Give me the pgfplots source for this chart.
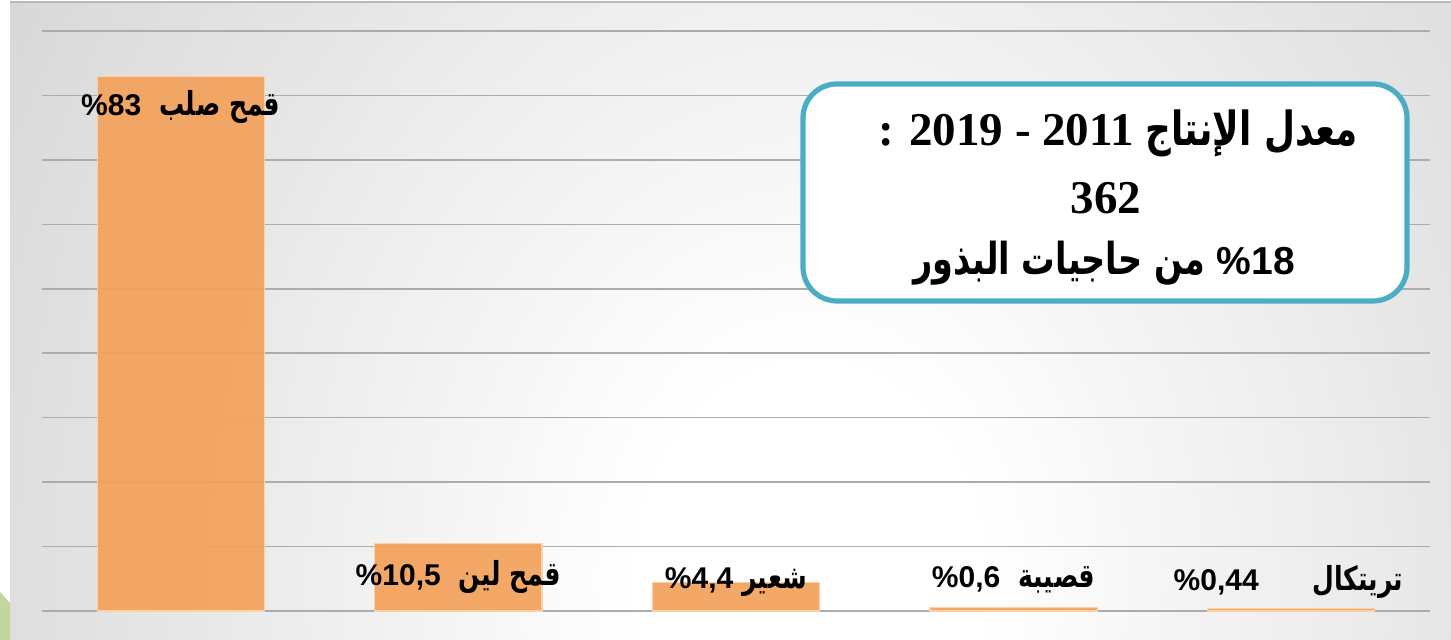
\documentclass[border=0pt]{standalone}
\usepackage{fontspec}
\usepackage{pgfplots}
\pgfplotsset{compat=1.18}
\setmainfont{Liberation Sans}
\newfontfamily\arabicfont[Script=Arabic,FakeStretch=0.76]{DejaVu Sans}
\newfontfamily\timesfont{Liberation Serif}
\TeXXeTstate=1
\definecolor{barfill}{RGB}{243,162,92}
\definecolor{baredge}{RGB}{250,210,170}
\definecolor{boxblue}{RGB}{75,172,198}
\definecolor{leaf}{RGB}{195,214,155}
\definecolor{bggray}{RGB}{194,194,194}
\definecolor{gridc}{RGB}{172,172,172}
\pgfdeclareradialshading{bgshade}{\pgfpoint{0bp}{0bp}}{color(0bp)=(white); color(5bp)=(white); color(40bp)=(bggray); color(50bp)=(bggray)}
\newcommand{\ar}[1]{{\arabicfont\bfseries\fontsize{16.5}{18}\selectfont\beginR #1\endR}}
\begin{document}
\begin{tikzpicture}[x=0.5pt,y=0.5pt]
\path[use as bounding box] (0,0) rectangle (1451,640);
\fill[white] (0,0) rectangle (1451,640);
\begin{scope}
\clip (10,0) rectangle (1451,638);
\fill[bggray] (10,0) rectangle (1451,638);
\shade[shading=bgshade] (810-840,60-1050) rectangle (810+840,60+1050);
\end{scope}
\draw[gray!55, line width=1] (10,638) -- (1451,638);
\fill[leaf] (0,48) -- (10,37) -- (10,0) -- (0,0) -- cycle;
\begin{axis}[
  at={(21pt,14.5pt)}, anchor=south west,
  scale only axis, width=694pt, height=290pt,
  ybar, bar width=83.5pt,
  xmin=-0.5, xmax=4.5, ymin=0, ymax=90,
  ytick={0,10,...,90}, xtick=\empty,
  yticklabels={}, major tick length=0pt,
  ymajorgrids, major grid style={draw=gridc, line width=0.75pt},
  axis line style={draw=none},
  clip=false,
]
\addplot[fill=barfill, draw=baredge, line width=0.6pt, fill opacity=0.93] coordinates {(0,83) (1,10.5) (2,4.4) (3,0.6) (4,0.44)};
\begin{scope}[every node/.style={font=\bfseries\fontsize{15}{18}\selectfont, inner sep=0pt}]
\node at (axis cs:0,78.2) {\%83\hspace{0.6em}\ar{قمح صلب}};
\node at (axis cs:1,5.3) {\%10,5\hspace{0.6em}\ar{قمح لين}};
\node at (axis cs:2,4.5) {\%4,4\hspace{0.3em}\ar{شعير}};
\node at (axis cs:3,4.8) {\%0,6\hspace{0.6em}\ar{قصيبة}};
\node at (axis cs:3.99,4.5) {\%0,44\hspace{1.8em}\ar{تريتكال}};
\end{scope}
\end{axis}
\draw[boxblue, line width=2.6pt, fill=white, rounded corners=17pt] (803,339) rectangle (1407,556);
\node[inner sep=0pt, font=\bfseries\fontsize{23.5}{27}\selectfont] at (1118,507) {{\timesfont : 2019 - 2011}\hspace{0.25em}{\arabicfont\bfseries\beginR معدل الإنتاج\endR}};
\node[inner sep=0pt, font=\bfseries\fontsize{23.5}{27}\selectfont] at (1106,442) {\timesfont 362};
\node[inner sep=0pt, font=\bfseries\fontsize{19.5}{24}\selectfont] at (1104,377) {{\arabicfont\bfseries\fontsize{22}{24}\selectfont\beginR من حاجيات البذور\endR}\hspace{0.3em}\%18};
\end{tikzpicture}
\end{document}
